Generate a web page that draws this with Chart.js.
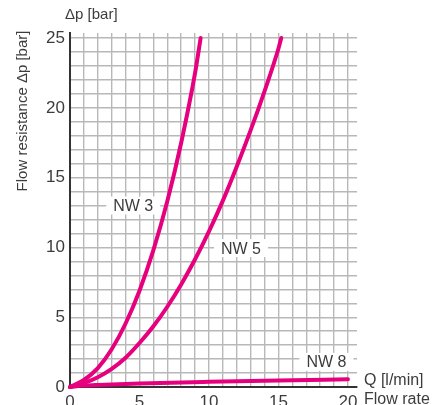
<!DOCTYPE html>
<html>
<head>
<meta charset="utf-8">
<script src="https://cdn.jsdelivr.net/npm/chart.js@4/dist/chart.umd.min.js"></script>
<style>
  body { margin: 0; background: #fff; }
  #wrap { width: 443px; height: 405px; position: relative; }
</style>
</head>
<body>
<div id="wrap"><canvas id="flowChart"></canvas></div>
<script>
// Flow rate Q [l/min] vs flow resistance dp [bar]
const qNW3 = [0, 1, 2, 3, 4, 5, 6, 7, 8, 9, 9.4];
const dpNW3 = [0, 0.5, 1.35, 2.7, 4.55, 6.9, 9.8, 13.3, 17.5, 22.5, 25];

const qNW5 = [0, 1, 2, 3, 4, 5, 6, 7, 8, 9, 10, 11, 12, 13, 14, 15, 15.2];
const dpNW5 = [0, 0.28, 0.7, 1.3, 2.1, 3.15, 4.35, 5.75, 7.35, 9.15, 11.15, 13.35, 15.8, 18.4, 21.2, 24.25, 25];

const qNW8 = [0, 1, 2, 5, 10, 15, 20];
const dpNW8 = [0, 0.1, 0.15, 0.25, 0.37, 0.47, 0.55];

const xTickLabels = [0, 5, 10, 15, 20];
const yTickLabels = [0, 5, 10, 15, 20, 25];

// curve name tags: [text, q, dp]
const curveTags = [['NW 3', 4.55, 13.0], ['NW 5', 12.3, 9.95], ['NW 8', 18.45, 1.8]];

const pink = '#e6007e';
const txt = '#3c3c3c';
const fontFam = '"Liberation Sans", Arial, sans-serif';

const toPts = (xs, ys) => xs.map((x, i) => ({ x: x, y: ys[i] }));

const curveDs = (label, pts) => ({
    label: label,
    data: pts,
    borderColor: pink,
    borderWidth: 4,
    borderCapStyle: 'round',
    pointRadius: 0,
    cubicInterpolationMode: 'monotone',
    fill: false,
    clip: false
});

// texts outside the axes + white tags on the grid
const textPlugin = {
    id: 'texts',
    beforeDatasetsDraw(chart) {
        const { ctx, scales: { x, y } } = chart;
        ctx.save();
        ctx.font = '16px ' + fontFam;
        ctx.textAlign = 'center';
        ctx.textBaseline = 'middle';
        curveTags.forEach(([t, q, dp]) => {
            const px = x.getPixelForValue(q);
            const py = y.getPixelForValue(dp);
            const w = ctx.measureText(t).width + 14;
            ctx.fillStyle = '#fff';
            ctx.fillRect(px - w / 2, py - 9, w, 18);
            ctx.fillStyle = txt;
            ctx.fillText(t, px, py + 1);
        });
        ctx.restore();
    },
    afterDraw(chart) {
        const { ctx, chartArea } = chart;
        ctx.save();
        ctx.fillStyle = txt;
        ctx.font = '15px ' + fontFam;
        ctx.textAlign = 'left';
        ctx.textBaseline = 'middle';
        ctx.fillText('\u0394p [bar]', 65, 15);
        ctx.font = '16px ' + fontFam;
        ctx.fillText('Q [l/min]', chartArea.right + 7, 381);
        ctx.textBaseline = 'top';
        ctx.fillText('Flow rate', chartArea.right + 7, 392);
        ctx.font = '15px ' + fontFam;
        ctx.translate(23, 111);
        ctx.rotate(-Math.PI / 2);
        ctx.textAlign = 'center';
        ctx.textBaseline = 'middle';
        ctx.fillText('Flow resistance \u0394p [bar]', 0, 0);
        ctx.restore();
    }
};

new Chart(document.getElementById('flowChart'), {
    type: 'line',
    data: {
        datasets: [
            curveDs('NW 3', toPts(qNW3, dpNW3)),
            curveDs('NW 5', toPts(qNW5, dpNW5)),
            curveDs('NW 8', toPts(qNW8, dpNW8))
        ]
    },
    options: {
        responsive: true,
        maintainAspectRatio: false,
        animation: false,
        layout: { padding: { left: 0, top: 33, right: 86, bottom: 0 } },
        plugins: { legend: { display: false }, tooltip: { enabled: false } },
        scales: {
            x: {
                type: 'linear',
                min: 0,
                max: 20.65,
                afterFit: s => { s.height = 18; s.paddingLeft = 0; s.paddingRight = 0; },
                grid: { color: '#b8b8b8', lineWidth: 1.4, drawTicks: false },
                border: { color: '#333', width: 2 },
                ticks: {
                    stepSize: 1,
                    includeBounds: false,
                    autoSkip: false,
                    maxRotation: 0,
                    padding: 5,
                    color: txt,
                    font: { size: 17, family: fontFam },
                    callback: v => xTickLabels.includes(v) ? String(v) : ''
                }
            },
            y: {
                min: 0,
                max: 25.36,
                afterFit: s => { s.width = 70; s.paddingTop = 0; s.paddingBottom = 0; },
                grid: { color: '#b8b8b8', lineWidth: 1.4, drawTicks: false },
                border: { color: '#333', width: 2 },
                ticks: {
                    stepSize: 1,
                    includeBounds: false,
                    autoSkip: false,
                    padding: 5,
                    color: txt,
                    font: { size: 17, family: fontFam },
                    callback: v => yTickLabels.includes(v) ? String(v) : ''
                }
            }
        }
    },
    plugins: [textPlugin]
});
</script>
</body>
</html>
